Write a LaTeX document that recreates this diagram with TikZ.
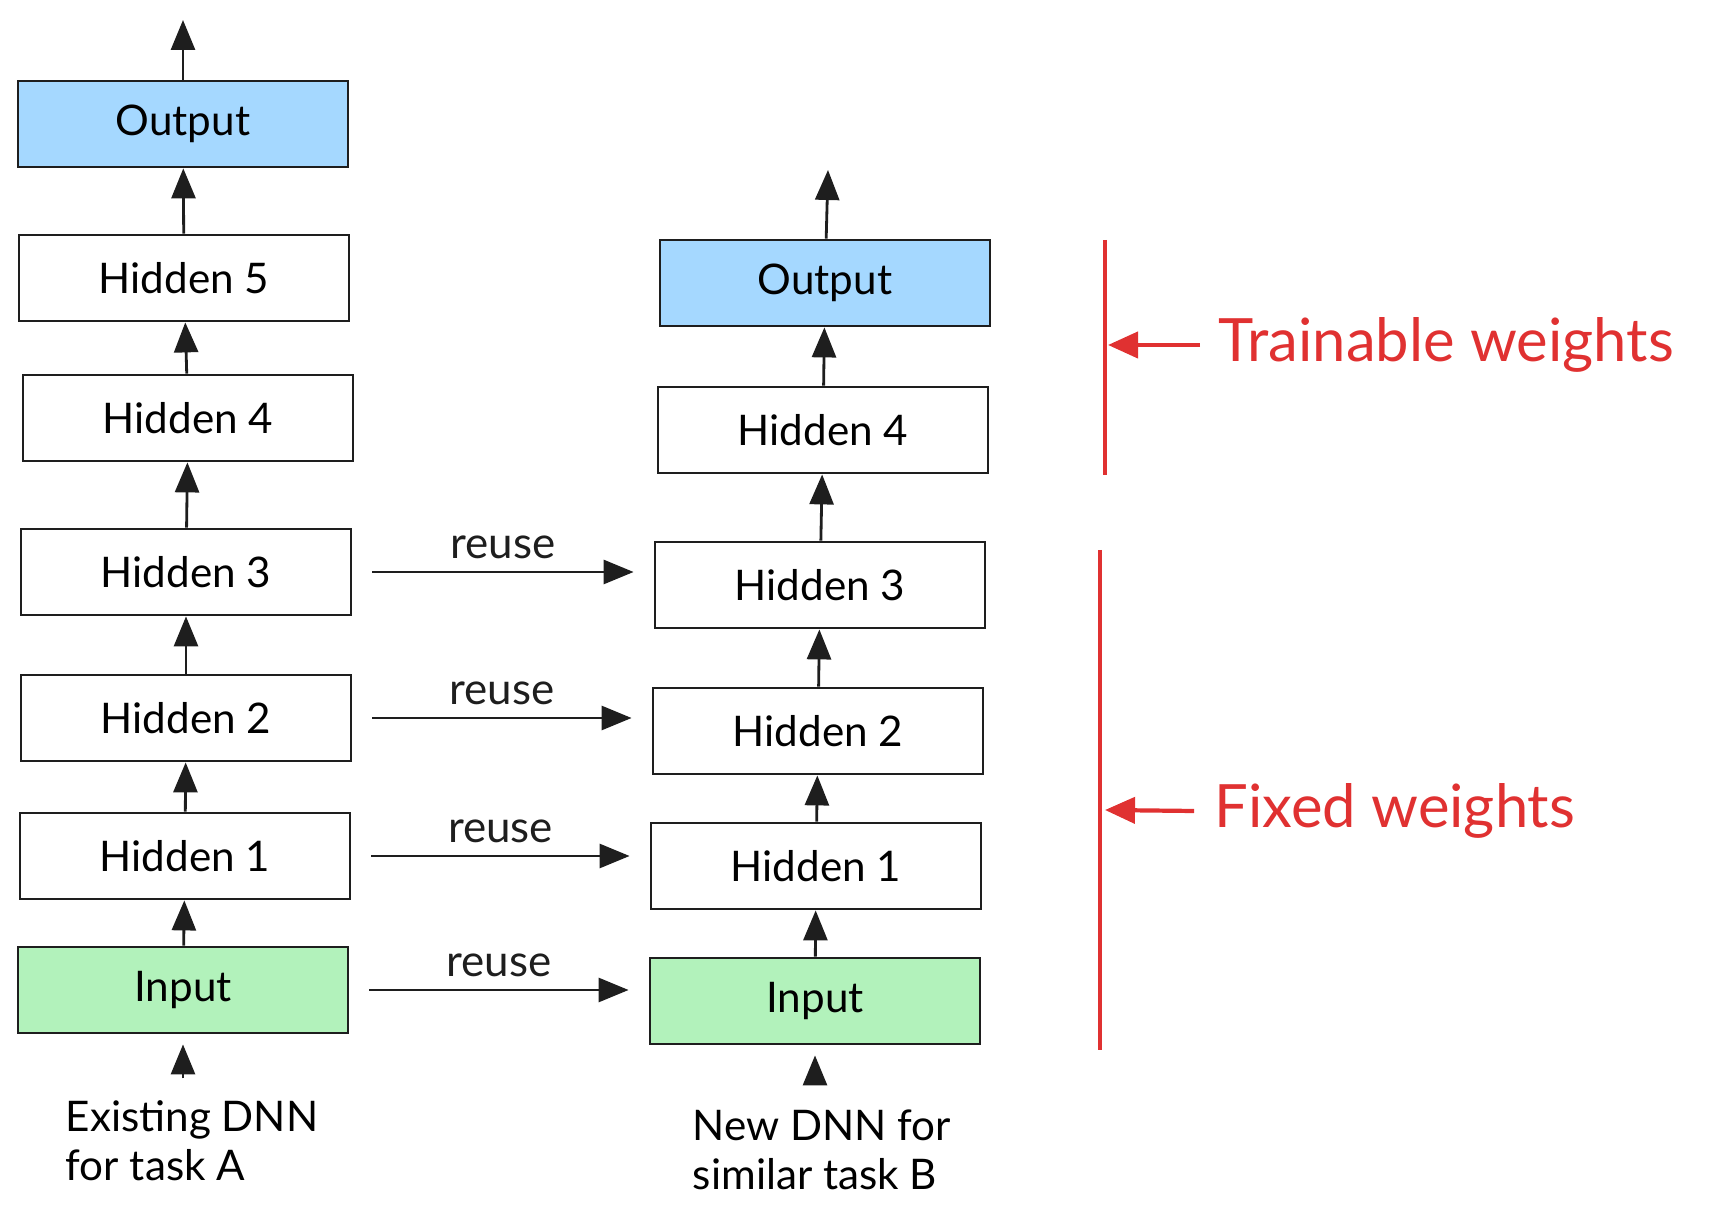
\documentclass[tikz,border=0pt]{standalone}
\usepackage{fontspec}
\setmainfont{Lato}
\usepackage{xcolor}
\usetikzlibrary{arrows.meta, positioning}

\definecolor{outblue}{HTML}{A5D8FF}
\definecolor{ingreen}{HTML}{B2F2BB}
\definecolor{markred}{HTML}{E03131}
\definecolor{inkgray}{HTML}{1E1E1E}

\begin{document}
\begin{tikzpicture}[
    layer/.style={rectangle, draw=inkgray, fill=white, thick, minimum width=3.3cm, minimum height=0.86cm, align=center, font=\fontsize{12}{14}\selectfont},
    outlayer/.style={layer, fill=outblue},
    inlayer/.style={layer, fill=ingreen},
    arrow/.style={-{Triangle[length=3mm, width=2.4mm]}, thick, inkgray},
    reusearrow/.style={arrow, shorten <=0.2cm, shorten >=0.2cm},
    reusetext/.style={above, font=\fontsize{12.5}{15}\selectfont},
    redarrow/.style={-{Triangle[length=3mm, width=2.6mm]}, very thick, markred},
    bracket/.style={very thick, markred},
    note/.style={align=left, font=\fontsize{12}{14}\selectfont},
    rednote/.style={anchor=west, inner sep=0pt, text=markred, font=\fontsize{17}{20}\selectfont}
]
\useasboundingbox (0,0) rectangle (17.18,12.21);

% existing network (task A)
\node[outlayer] (aout) at (1.83,10.97) {Output};
\node[layer] (ah5) at (1.84,9.43) {Hidden 5};
\node[layer] (ah4) at (1.88,8.03) {Hidden 4};
\node[layer] (ah3) at (1.86,6.49) {Hidden 3};
\node[layer] (ah2) at (1.86,5.03) {Hidden 2};
\node[layer] (ah1) at (1.85,3.65) {Hidden 1};
\node[inlayer] (ain) at (1.83,2.31) {Input};
\node[note] (alabel) at (1.92,0.80) {Existing DNN\\for task A};
\coordinate (atop) at (1.83,12.01);

% new network (task B)
\node[outlayer] (bout) at (8.25,9.38) {Output};
\node[layer] (bh4) at (8.23,7.91) {Hidden 4};
\node[layer] (bh3) at (8.20,6.36) {Hidden 3};
\node[layer] (bh2) at (8.18,4.90) {Hidden 2};
\node[layer] (bh1) at (8.16,3.55) {Hidden 1};
\node[inlayer] (bin) at (8.15,2.20) {Input};
\node[note] (blabel) at (8.22,0.71) {New DNN for\\similar task B};
\coordinate (btop) at (8.28,10.51);

% vertical flow
\draw[arrow] (ah5) -- (aout);
\draw[arrow] (aout) -- (atop);
\draw[arrow] (ah4) -- (ah5);
\draw[arrow] (ah3) -- (ah4);
\draw[arrow] (ah2) -- (ah3);
\draw[arrow] (ah1) -- (ah2);
\draw[arrow] (ain) -- (ah1);
\draw[arrow, shorten <=0.1cm, shorten >=0.1cm] (alabel.north -| ain) -- (ain);

\draw[arrow] (bh4) -- (bout);
\draw[arrow] (bout) -- (btop);
\draw[arrow] (bh3) -- (bh4);
\draw[arrow] (bh2) -- (bh3);
\draw[arrow] (bh1) -- (bh2);
\draw[arrow] (bin) -- (bh1);
\draw[arrow, shorten <=0.15cm, shorten >=0.1cm] (blabel.north -| bin) -- (bin);

% reuse links
\draw[reusearrow] (ah3) -- node[reusetext] {reuse} (bh3.west |- ah3);
\draw[reusearrow] (ah2) -- node[reusetext] {reuse} (bh2.west |- ah2);
\draw[reusearrow] (ah1) -- node[reusetext] {reuse} (bh1.west |- ah1);
\draw[reusearrow] (ain) -- node[reusetext] {reuse} (bin.west |- ain);

% weight groups
\coordinate (ttop) at (11.05,9.81);
\coordinate (tbot) at (11.05,7.46);
\coordinate (tmid) at (11.08,8.76);
\coordinate (ftop) at (11.00,6.71);
\coordinate (fbot) at (11.00,1.71);
\coordinate (fmid) at (11.05,4.11);
\draw[bracket] (ttop) -- (tbot);
\draw[bracket] (ftop) -- (fbot);
\node[rednote] (tlabel) at (12.18,8.76) {Trainable weights};
\node[rednote] (flabel) at (12.14,4.10) {Fixed weights};
\draw[redarrow] (tlabel.west) ++(-0.18,0) -- (tmid);
\draw[redarrow] (flabel.west) ++(-0.2,0) -- (fmid);

\end{tikzpicture}
\end{document}
